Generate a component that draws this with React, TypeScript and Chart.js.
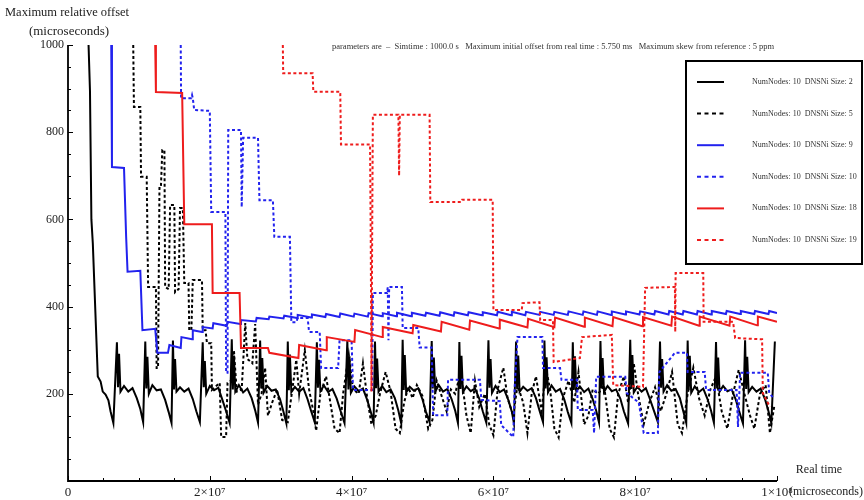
import React, { useEffect, useRef } from 'react';
import { Chart, registerables } from 'chart.js';

Chart.register(...registerables);

const FONT = "'Liberation Serif', 'DejaVu Serif', serif";

// x values are in units of 10^6 microseconds
const xTickValues = [0, 20, 40, 60, 80, 100];
const xTickLabels = ['0', '2×10⁷', '4×10⁷', '6×10⁷', '8×10⁷', '1×10⁸'];
const yTickValues = [200, 400, 600, 800, 1000];

const seriesNames = [
  'NumNodes: 10  DNSNi Size: 2',
  'NumNodes: 10  DNSNi Size: 5',
  'NumNodes: 10  DNSNi Size: 9',
  'NumNodes: 10  DNSNi Size: 10',
  'NumNodes: 10  DNSNi Size: 18',
  'NumNodes: 10  DNSNi Size: 19',
];
const seriesColors = ['#000000', '#000000', '#2222ee', '#2222ee', '#ee1c1c', '#ee1c1c'];
const seriesDashed = [false, true, false, true, false, true];

const size2 = [
  [2.9, 1000], [3.1, 895], [3.3, 600], [3.5, 545], [4.2, 240], [4.6, 228], [4.9, 205], [5.3, 198], [5.7, 185], [6.0, 160], [6.4, 133],
  [6.9, 318], [7.05, 215], [7.2, 292], [7.4, 205], [7.9, 218], [8.5, 205], [9.1, 213], [9.7, 190], [10.2, 165], [10.6, 135],
  [10.9, 320], [11.05, 212], [11.2, 285], [11.4, 200], [11.9, 220], [12.5, 208], [13.1, 210], [13.7, 186], [14.2, 158], [14.6, 133],
  [14.8, 322], [14.95, 210], [15.1, 280], [15.3, 205], [15.8, 215], [16.4, 205], [17.0, 212], [17.6, 188], [18.1, 160], [18.6, 135],
  [19.0, 318], [19.15, 215], [19.3, 275], [19.5, 200], [20.0, 218], [20.6, 208], [21.2, 214], [21.8, 185], [22.3, 160], [22.8, 133],
  [23.1, 325], [23.25, 210], [23.4, 288], [23.6, 205], [24.1, 220], [24.7, 203], [25.3, 212], [25.9, 190], [26.4, 162], [26.8, 134],
  [27.1, 322], [27.25, 212], [27.4, 282], [27.6, 203], [28.1, 218], [28.7, 207], [29.3, 210], [29.9, 188], [30.4, 158], [30.8, 132],
  [31.0, 320], [31.15, 208], [31.3, 290], [31.5, 204], [32.0, 216], [32.6, 205], [33.2, 213], [33.8, 187], [34.3, 160], [34.8, 135],
  [35.1, 318], [35.25, 214], [35.4, 278], [35.6, 206], [36.1, 219], [36.7, 204], [37.3, 211], [37.9, 189], [38.4, 163], [39.0, 133],
  [39.4, 322], [39.55, 210], [39.7, 286], [39.9, 202], [40.4, 217], [41.0, 206], [41.6, 212], [42.2, 186], [42.7, 159], [43.1, 134],
  [43.3, 320], [43.45, 213], [43.6, 281], [43.8, 205], [44.3, 218], [44.9, 204], [45.5, 210], [46.1, 190], [46.6, 161], [47.0, 132],
  [47.2, 324], [47.35, 209], [47.5, 289], [47.7, 203], [48.2, 216], [48.8, 207], [49.4, 213], [50.0, 187], [50.5, 158], [51.0, 135],
  [51.3, 321], [51.45, 212], [51.6, 283], [51.8, 205], [52.3, 220], [52.9, 205], [53.5, 211], [54.1, 188], [54.6, 162], [55.0, 133],
  [55.2, 319], [55.35, 211], [55.5, 287], [55.7, 204], [56.2, 217], [56.8, 206], [57.4, 212], [58.0, 189], [58.5, 160], [59.0, 134],
  [59.3, 323], [59.45, 214], [59.6, 280], [59.8, 202], [60.3, 218], [60.9, 204], [61.5, 210], [62.1, 186], [62.6, 159], [62.9, 132],
  [63.2, 320], [63.35, 210], [63.5, 288], [63.7, 205], [64.2, 216], [64.8, 207], [65.4, 213], [66.0, 190], [66.5, 162], [67.0, 135],
  [67.2, 322], [67.35, 212], [67.5, 284], [67.7, 203], [68.2, 219], [68.8, 205], [69.4, 211], [70.0, 187], [70.5, 158], [71.0, 133],
  [71.2, 318], [71.35, 209], [71.5, 286], [71.7, 206], [72.2, 217], [72.8, 204], [73.4, 212], [74.0, 188], [74.5, 161], [74.9, 134],
  [75.1, 321], [75.25, 213], [75.4, 282], [75.6, 204], [76.1, 218], [76.7, 206], [77.3, 210], [77.9, 189], [78.4, 160], [79.0, 132],
  [79.3, 324], [79.45, 211], [79.6, 289], [79.8, 203], [80.3, 216], [80.9, 205], [81.5, 213], [82.1, 187], [82.6, 163], [83.2, 135],
  [83.5, 320], [83.65, 214], [83.8, 280], [84.0, 205], [84.5, 220], [85.1, 207], [85.7, 211], [86.3, 190], [86.8, 159], [87.2, 133],
  [87.4, 322], [87.55, 210], [87.7, 287], [87.9, 202], [88.4, 217], [89.0, 204], [89.6, 212], [90.2, 188], [90.7, 161], [91.1, 134],
  [91.4, 319], [91.55, 212], [91.7, 283], [91.9, 205], [92.4, 218], [93.0, 206], [93.6, 210], [94.2, 186], [94.7, 158], [95.2, 132],
  [95.5, 323], [95.65, 211], [95.8, 285], [96.0, 204], [96.5, 216], [97.1, 205], [97.7, 212], [98.3, 188], [98.8, 160], [99.2, 133],
  [99.7, 320],
];

const size5 = [
  [9.2, 1000], [9.3, 858], [10.2, 858], [10.3, 698], [11.1, 698], [11.3, 445], [12.4, 445], [12.5, 259], [12.7, 259], [12.9, 672],
  [13.1, 672], [13.3, 759], [13.6, 759], [13.7, 445], [14.2, 440], [14.4, 633], [15.0, 633], [15.1, 433], [15.6, 440], [15.8, 626],
  [16.2, 626], [16.4, 454], [17.0, 454], [17.1, 346], [17.4, 346], [17.6, 461], [18.9, 461], [19.0, 346], [19.4, 346], [19.6, 316],
  [20.2, 316], [20.3, 209], [21.4, 225], [21.6, 101], [22.3, 101], [22.5, 225], [23.0, 230], [23.4, 300], [23.8, 205], [24.5, 210],
  [25.0, 362], [25.3, 280], [26.0, 270], [26.4, 360], [26.8, 175], [27.3, 200], [27.8, 260], [28.2, 150], [28.8, 180], [29.5, 210],
  [30.2, 140], [31.0, 135], [31.6, 205], [32.2, 278], [32.6, 200], [33.4, 300], [34.0, 210], [34.6, 160], [35.0, 115], [35.6, 200],
  [36.4, 240], [37.0, 180], [37.6, 120], [38.3, 110], [38.8, 200], [39.6, 290], [40.2, 210], [41.0, 200], [41.6, 270], [42.2, 190],
  [42.8, 130], [43.4, 150], [44.0, 200], [44.8, 250], [45.5, 205], [46.2, 120], [46.8, 110], [47.4, 180], [48.0, 215], [48.6, 190],
  [49.2, 220], [50.0, 195], [50.8, 120], [51.4, 140], [52.0, 230], [52.6, 200], [53.4, 160], [54.0, 210], [54.6, 200], [55.4, 250],
  [56.2, 150], [56.8, 110], [57.4, 230], [58.0, 170], [58.8, 200], [59.4, 130], [60.0, 105], [60.6, 210], [61.4, 260], [62.0, 190],
  [62.8, 150], [63.4, 220], [64.2, 180], [64.8, 110], [65.4, 200], [66.0, 240], [66.8, 160], [67.4, 260], [68.0, 210], [68.6, 120],
  [69.2, 100], [69.8, 190], [70.6, 230], [71.4, 180], [72.0, 250], [72.8, 130], [73.4, 150], [74.0, 210], [74.8, 200], [75.6, 220],
  [76.4, 120], [77.0, 100], [77.6, 200], [78.4, 240], [79.0, 180], [79.8, 270], [80.4, 200], [81.2, 130], [82.0, 180], [82.8, 215],
  [83.6, 160], [84.4, 200], [85.2, 250], [86.0, 130], [86.6, 110], [87.4, 200], [88.2, 260], [89.0, 190], [89.8, 150], [90.6, 210],
  [91.4, 240], [92.2, 160], [93.0, 120], [93.8, 200], [94.6, 255], [95.4, 200], [96.2, 150], [96.8, 120], [97.6, 200], [98.4, 220],
  [99.0, 110], [99.6, 170],
];

const size9 = [
  [6.1, 1000], [6.2, 720], [7.9, 718], [8.2, 560], [8.4, 480], [10.2, 482], [10.5, 346], [12.3, 349], [12.6, 294], [14.1, 294], [14.3, 312],
  [15.9, 305], [16.0, 330], [17.5, 325], [17.6, 346], [18.9, 342], [19.0, 353], [20.4, 350], [20.5, 362], [22.4, 356], [22.5, 365],
  [24.3, 360], [24.4, 369], [26.5, 366], [26.6, 374], [28.3, 371], [28.4, 377], [30.4, 373], [30.5, 379], [32.3, 374], [32.4, 381],
  [34.3, 375], [34.4, 382], [36.3, 376], [36.4, 383], [38.3, 376], [38.4, 384], [40.3, 377], [40.4, 384], [42.3, 377], [42.4, 385],
  [44.3, 378], [44.4, 385], [46.3, 378], [46.4, 386], [48.4, 378], [48.5, 386], [50.4, 379], [50.5, 386], [52.4, 379], [52.5, 387],
  [54.4, 379], [54.5, 387], [56.4, 380], [56.5, 387], [58.4, 380], [58.5, 387], [60.5, 380], [60.6, 388], [62.5, 380], [62.6, 388],
  [64.5, 380], [64.6, 388], [66.5, 381], [66.6, 388], [68.5, 381], [68.6, 388], [70.5, 381], [70.6, 389], [72.6, 381], [72.7, 389],
  [74.6, 381], [74.7, 389], [76.6, 381], [76.7, 389], [78.6, 382], [78.7, 389], [80.6, 382], [80.7, 389], [82.7, 382], [82.8, 390],
  [84.7, 382], [84.8, 390], [86.7, 382], [86.8, 390], [88.7, 382], [88.8, 390], [90.7, 382], [90.8, 390], [92.8, 383], [92.9, 390],
  [94.8, 383], [94.9, 390], [96.8, 383], [96.9, 390], [98.8, 383], [98.9, 390], [100, 385],
];

const size10 = [
  [15.9, 1000], [15.95, 878], [17.4, 878], [17.5, 885], [17.6, 878], [17.8, 851], [20.0, 849], [20.2, 617], [22.2, 617], [22.3, 248],
  [22.5, 248], [22.6, 805], [24.4, 805], [24.5, 628], [24.7, 787], [26.8, 787], [27.0, 644], [28.9, 644], [29.1, 560], [31.3, 560],
  [31.5, 364], [32.2, 364], [32.4, 374], [33.8, 374], [34.0, 342], [35.5, 342], [35.7, 259], [38.1, 259], [38.3, 323], [40.0, 323],
  [40.2, 209], [42.9, 209], [43.0, 431], [45.0, 431], [45.1, 445], [45.2, 323], [45.3, 445], [47.1, 445], [47.2, 351], [49.4, 351],
  [49.6, 306], [51.3, 306], [51.5, 151], [53.5, 151], [53.6, 232], [58.1, 232], [58.3, 186], [60.9, 183], [61.1, 128], [62.8, 101],
  [63.0, 216], [63.4, 330], [66.9, 330], [67.0, 259], [69.4, 259], [69.6, 232], [71.8, 232], [71.9, 163], [74.0, 163], [74.2, 110],
  [74.5, 239], [78.6, 239], [78.8, 202], [80.5, 180], [81.2, 110], [83.2, 110], [83.4, 250], [85.6, 294], [87.3, 294], [87.4, 250],
  [89.8, 250], [90.0, 209], [94.3, 209], [94.5, 124], [94.8, 248], [98.7, 248], [98.9, 202], [99.5, 190],
];

const size18 = [
  [12.3, 1000], [12.4, 892], [16.1, 890], [16.4, 589], [20.3, 589], [20.4, 431], [24.2, 431], [24.4, 305], [28.2, 305], [28.4, 294],
  [32.5, 282], [32.6, 312], [36.4, 300], [36.5, 330], [40.4, 319], [40.5, 346], [44.3, 330], [44.4, 353], [48.6, 339], [48.7, 358],
  [52.6, 343], [52.7, 365], [56.6, 347], [56.7, 368], [60.8, 350], [60.9, 370], [64.8, 352], [64.9, 372], [68.6, 353], [68.7, 375],
  [72.8, 354], [72.9, 375], [76.8, 355], [76.9, 376], [81.0, 355], [81.1, 376], [85.1, 356], [85.2, 377], [89.0, 356], [89.1, 377],
  [93.3, 356], [93.4, 377], [97.2, 357], [97.3, 377], [100, 365],
];

const size19 = [
  [30.3, 1000], [30.35, 935], [34.5, 935], [34.6, 893], [38.4, 893], [38.5, 772], [42.6, 772], [42.7, 560], [42.8, 205], [42.9, 560],
  [43.0, 840], [46.6, 840], [46.7, 700], [46.8, 840], [51.0, 840], [51.1, 640], [55.5, 640], [55.6, 645], [59.9, 645], [60.0, 392],
  [64.0, 392], [64.1, 408], [66.5, 410], [66.6, 369], [68.4, 369], [68.5, 273], [72.2, 282], [72.5, 330], [76.7, 335], [76.9, 220],
  [81.1, 216], [81.4, 443], [85.6, 445], [85.65, 342], [85.7, 477], [89.6, 477], [89.65, 365], [93.8, 365], [94.1, 328], [97.9, 325],
  [98.0, 202], [99.0, 170],
];

const allSeries = [size2, size5, size9, size10, size18, size19];

export default function App() {
  const ref = useRef<HTMLCanvasElement>(null);

  useEffect(() => {
    document.body.style.margin = '0';
    const canvas = ref.current;
    if (!canvas) return;

    const datasets = allSeries.map((s, i) => ({
      label: seriesNames[i],
      data: s.map(([x, y]) => ({ x, y })),
      borderColor: seriesColors[i],
      backgroundColor: seriesColors[i],
      borderWidth: 2,
      borderDash: seriesDashed[i] ? [3, 2.5] : [],
      pointRadius: 0,
      tension: 0,
      fill: false,
      order: 5 - i,
    }));

    const decor = {
      id: 'decor',
      afterDraw(chart: any) {
        const ctx = chart.ctx as CanvasRenderingContext2D;
        const xs = chart.scales.x;
        const ys = chart.scales.y;
        const { left, right, top, bottom } = chart.chartArea;
        ctx.save();
        // axes
        ctx.strokeStyle = '#000';
        ctx.lineWidth = 1.8;
        ctx.setLineDash([]);
        ctx.beginPath();
        ctx.moveTo(left, top);
        ctx.lineTo(left, bottom);
        ctx.lineTo(right, bottom);
        ctx.stroke();
        // ticks (inside)
        ctx.lineWidth = 1;
        ctx.beginPath();
        for (let v = 0; v <= 1000; v += 50) {
          const p = Math.round(ys.getPixelForValue(v)) + 0.5;
          const len = v % 200 === 0 ? 5 : 3;
          ctx.moveTo(left, p);
          ctx.lineTo(left + len, p);
        }
        for (let v = 0; v <= 100; v += 5) {
          const p = Math.round(xs.getPixelForValue(v)) + 0.5;
          const len = v % 20 === 0 ? 5 : 3;
          ctx.moveTo(p, bottom);
          ctx.lineTo(p, bottom - len);
        }
        ctx.stroke();

        // axis titles
        ctx.fillStyle = '#222';
        ctx.textBaseline = 'middle';
        ctx.textAlign = 'left';
        ctx.font = `12.5px ${FONT}`;
        ctx.fillText('Maximum relative offset', 5, 13);
        ctx.textAlign = 'center';
        ctx.font = `13px ${FONT}`;
        ctx.fillText('(microseconds)', 69, 32);
        ctx.font = `12px ${FONT}`;
        ctx.fillText('Real time', 819, 470);
        ctx.textAlign = 'left';
        ctx.fillText('(microseconds)', 789, 492);

        // parameters text
        ctx.font = `8.5px ${FONT}`;
        ctx.textAlign = 'left';
        ctx.fillStyle = '#333';
        ctx.fillText(
          'parameters are  –  Simtime : 1000.0 s   Maximum initial offset from real time : 5.750 ms   Maximum skew from reference : 5 ppm',
          332, 47
        );

        // legend
        const lx = 686, ly = 61, lw = 176, lh = 203;
        ctx.fillStyle = '#fff';
        ctx.fillRect(lx, ly, lw, lh);
        ctx.strokeStyle = '#000';
        ctx.lineWidth = 2;
        ctx.strokeRect(lx, ly, lw, lh);
        ctx.font = `8px ${FONT}`;
        for (let i = 0; i < seriesNames.length; i++) {
          const yy = 82 + i * 31.6;
          ctx.strokeStyle = seriesColors[i];
          ctx.lineWidth = 2;
          ctx.setLineDash(seriesDashed[i] ? [4, 3.5] : []);
          ctx.beginPath();
          ctx.moveTo(697, yy);
          ctx.lineTo(724, yy);
          ctx.stroke();
          ctx.setLineDash([]);
          ctx.fillStyle = '#333';
          ctx.fillText(seriesNames[i], 752, yy);
        }
        ctx.restore();
      },
    };

    const chart = new Chart(canvas, {
      type: 'line',
      data: { datasets },
      options: {
        animation: false,
        responsive: false,
        maintainAspectRatio: false,
        events: [],
        layout: { padding: { left: 0, top: 45, right: 87, bottom: 0 } },
        plugins: { legend: { display: false }, tooltip: { enabled: false }, title: { display: false } },
        scales: {
          x: {
            type: 'linear',
            min: 0,
            max: 100,
            grid: { display: false, drawTicks: false },
            border: { display: false },
            afterBuildTicks: (s: any) => {
              s.ticks = xTickValues.map((v) => ({ value: v }));
            },
            afterFit: (s: any) => {
              s.height = 19;
            },
            ticks: {
              autoSkip: false,
              maxRotation: 0,
              padding: 4,
              color: '#222',
              font: { family: FONT, size: 13 },
              callback: (v: any) => xTickLabels[xTickValues.indexOf(Number(v))] ?? '',
            },
          },
          y: {
            type: 'linear',
            min: 0,
            max: 1000,
            grid: { display: false, drawTicks: false },
            border: { display: false },
            afterBuildTicks: (s: any) => {
              s.ticks = yTickValues.map((v) => ({ value: v }));
            },
            afterFit: (s: any) => {
              s.width = 68;
            },
            ticks: {
              autoSkip: false,
              padding: 4,
              color: '#222',
              font: { family: FONT, size: 12 },
              callback: (v: any) => String(v),
            },
          },
        },
      },
      plugins: [decor],
    });
    return () => chart.destroy();
  }, []);

  return (
    <div style={{ width: 864, height: 500, background: '#fff' }}>
      <canvas ref={ref} width={864} height={500} style={{ display: 'block' }} />
    </div>
  );
}
